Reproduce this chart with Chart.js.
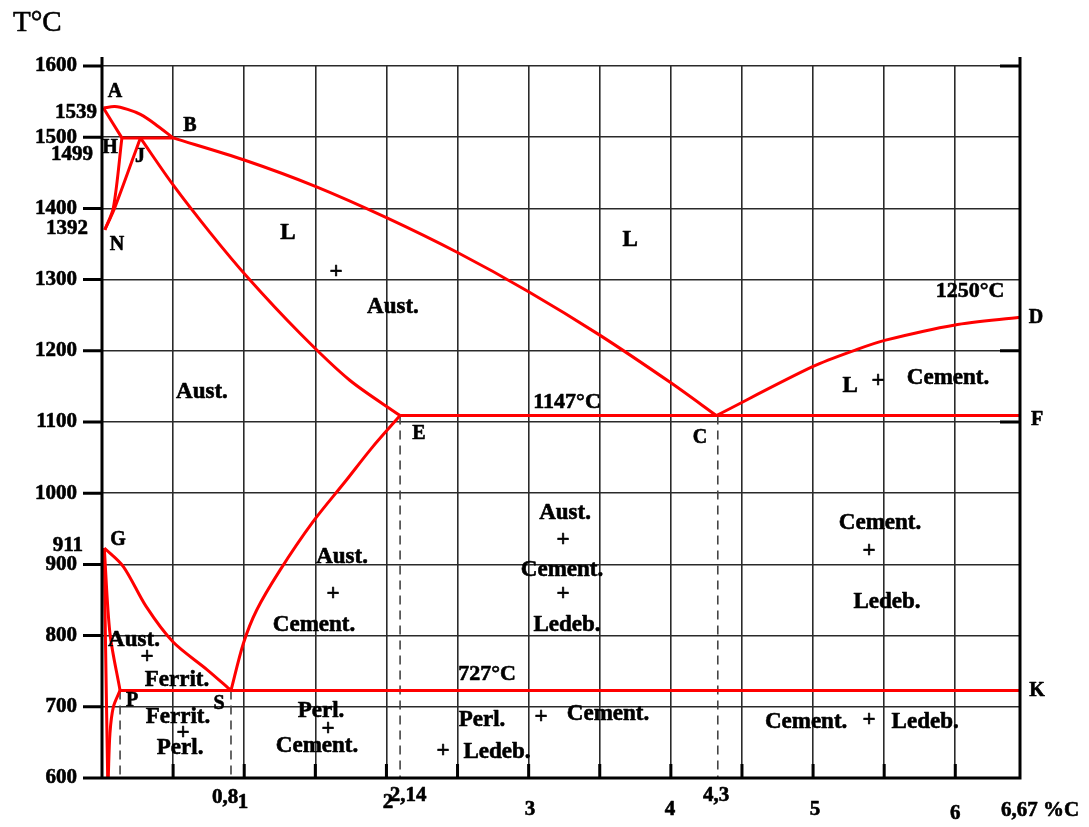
<!DOCTYPE html>
<html><head><meta charset="utf-8">
<script src="https://cdn.jsdelivr.net/npm/chart.js@4"></script>
<style>html,body{margin:0;padding:0;background:#fff}#wrap{width:1089px;height:827px}</style>
</head><body><div id="wrap"><canvas id="c" width="1089" height="827"></canvas></div>
<script>
// ---- data (x = %C position as drawn, y = temperature as drawn) ----
const xGrid = [0,0.5,1,1.5,2,2.5,3,3.5,4,4.5,5,5.5,6,6.455];
const yTicks = [600,700,800,900,1000,1100,1200,1300,1400,1500,1600];
const yExtraLabels = ['1539','1499','1392','911'];
const yExtraPos = [1535,1475,1372,926];

const lineAB = [[0.01,1541],[0.09,1543],[0.18,1539],[0.27,1532],[0.37,1519],[0.5,1499]];
const lineAH = [[0.01,1541],[0.14,1499]];
const lineHB = [[0.14,1499],[0.5,1499]];
const lineHN = [[0.14,1499],[0.08,1401],[0.02,1370]];
const lineJN = [[0.27,1499],[0.09,1401],[0.02,1370]];
const lineJE = [[0.27,1499],[0.5,1433],[0.76,1366],[1.02,1304],[1.39,1225],[1.74,1159],[2.096,1109]];
const lineBC = [[0.5,1499],[1.0,1468],[1.5,1431],[2.0,1387],[2.5,1338],[3.0,1283],[3.5,1222],[4.0,1155],[4.32,1109]];
const lineCD = [[4.32,1109],[5.0,1178],[5.31,1202],[5.51,1215],[5.99,1236],[6.455,1247]];
const lineECF = [[2.096,1109],[6.455,1109]];
const lineGS = [[0.016,923],[0.15,897],[0.31,841],[0.5,791],[0.74,752],[0.907,723]];
const lineSE = [[0.907,723],[0.994,789],[1.088,836],[1.252,892],[1.484,960],[1.709,1016],[1.899,1064],[2.096,1109]];
const linePSK = [[0.127,723],[6.455,723]];
const lineGP = [[0.016,923],[0.056,803],[0.127,723]];
const linePQ = [[0.127,723],[0.08,700],[0.056,663],[0.044,600]];
const lineGQ = [[0.016,923],[0.021,836],[0.04,600]];

const dashP = [[0.127,723],[0.127,600]];
const dashS = [[0.907,723],[0.907,600]];
const dashE = [[2.096,1109],[2.096,600]];
const dashC = [[4.33,1109],[4.33,600]];

const regionLabels = [
  ['L',1.308,1365],['+',1.646,1311],['Aust.',2.046,1261],['L',3.713,1356],
  ['Aust.',0.703,1142],['L',5.26,1151],['+',5.457,1158],['Cement.',5.949,1162],
  ['Aust.',3.256,972],['+',3.242,934],['Cement.',3.235,892],['+',3.242,858],['Ledeb.',3.27,815],
  ['Cement.',5.471,958],['+',5.394,919],['Ledeb.',5.52,847],
  ['Aust.',1.688,910],['+',1.624,858],['Cement.',1.491,815],
  ['Aust.',0.225,794],['+',0.316,770],['Ferrit.',0.527,738],
  ['Ferrit.',0.534,686],['+',0.57,663],['Perl.',0.549,642],
  ['Perl.',1.54,694],['+',1.589,669],['Cement.',1.512,645],
  ['Perl.',2.672,682],['+',3.087,686],['Cement.',3.558,690],
  ['+',2.398,638],['Ledeb.',2.778,637],
  ['Cement.',4.951,679],['+',5.394,682],['Ledeb.',5.788,679]
];
const pointLabels = [
  ['A',0.091,1564],['B',0.619,1516],['H',0.056,1485],['J',0.267,1472],['N',0.105,1349],
  ['D',6.568,1246],['E',2.229,1083],['C',4.205,1078],['F',6.575,1103],
  ['G',0.113,934],['K',6.575,722],['P',0.211,708],['S',0.823,704]
];
const tempLabels = [['1147°C',3.27,1128],['727°C',2.707,746],['1250°C',6.104,1284]];
const xTickLabels = ['0,8','1','2','2,14','3','4','4,3','5','6','6,67 %C'];
const xTickPos = [0.865,0.992,2.011,2.152,3.01,3.994,4.318,5.014,5.999,6.596];
const xTickLevel = [573,565,565,576,555,555,575,555,550,554];

// ---- chart ----
const RED = '#ff0000';
function pts(a){ return a.map(p=>({x:p[0],y:p[1]})); }
const redLines = [lineAB,lineAH,lineHB,lineHN,lineJN,lineJE,lineBC,lineCD,lineECF,lineGS,lineSE,linePSK,lineGP,linePQ,lineGQ];
const dashLines = [dashP,dashS,dashE,dashC];
const datasets = [];
dashLines.forEach(l=>datasets.push({data:pts(l),showLine:true,borderColor:'#444',borderWidth:1.6,borderDash:[9,6],pointRadius:0,clip:false,order:2}));
redLines.forEach(l=>datasets.push({data:pts(l),showLine:true,borderColor:RED,borderWidth:3,pointRadius:0,tension:0.3,clip:false,order:1}));

const SERIF = '"Liberation Serif","Times New Roman",serif';
function txt(ctx,t,px,py){ ctx.strokeText(t,px,py); ctx.fillText(t,px,py); }
const overlay = {
  id:'overlay',
  afterDraw(chart){
    const {ctx, chartArea:a, scales:{x,y}} = chart;
    ctx.save();
    ctx.strokeStyle='#000'; ctx.lineWidth=3; ctx.lineCap='butt';
    ctx.beginPath();
    ctx.moveTo(a.left,a.top-9); ctx.lineTo(a.left,a.bottom+1.5);
    ctx.moveTo(a.right,a.top-9); ctx.lineTo(a.right,a.bottom+1.5);
    ctx.moveTo(a.left-19,a.bottom); ctx.lineTo(a.right,a.bottom);
    yTicks.forEach(v=>{const py=y.getPixelForValue(v); ctx.moveTo(a.left-19,py); ctx.lineTo(a.left,py);});
    [1600,1200,1100].forEach(v=>{const py=y.getPixelForValue(v); ctx.moveTo(a.right-20,py); ctx.lineTo(a.right,py);});
    xGrid.forEach(v=>{const px=x.getPixelForValue(v); ctx.moveTo(px,a.bottom); ctx.lineTo(px,a.bottom-14);});
    ctx.stroke();

    ctx.fillStyle='#000'; ctx.strokeStyle='#000'; ctx.lineWidth=0.6; ctx.lineJoin='round';
    ctx.textBaseline='middle';
    ctx.textAlign='right';
    ctx.font='bold 21px '+SERIF;
    yTicks.forEach(v=>{txt(ctx,String(v), a.left-25, y.getPixelForValue(v));});
    const extraRight=[-5,-9,-14,-19];
    yExtraLabels.forEach((t,i)=>{txt(ctx,t, a.left+extraRight[i], y.getPixelForValue(yExtraPos[i]));});

    ctx.textAlign='center';
    ctx.font='bold 23px '+SERIF;
    regionLabels.forEach(l=>txt(ctx,l[0], x.getPixelForValue(l[1]), y.getPixelForValue(l[2])));
    ctx.font='bold 20px '+SERIF;
    pointLabels.forEach(l=>txt(ctx,l[0], x.getPixelForValue(l[1]), y.getPixelForValue(l[2])));
    ctx.font='bold 22px '+SERIF;
    tempLabels.forEach(l=>txt(ctx,l[0], x.getPixelForValue(l[1]), y.getPixelForValue(l[2])));
    ctx.font='bold 21px '+SERIF;
    xTickLabels.forEach((t,i)=>txt(ctx,t, x.getPixelForValue(xTickPos[i]), y.getPixelForValue(xTickLevel[i])));

    ctx.font='29px '+SERIF;
    ctx.textAlign='left';
    txt(ctx,'T°C', 13, 23);
    ctx.restore();
  }
};

new Chart(document.getElementById('c'), {
  type:'scatter',
  data:{datasets},
  options:{
    responsive:false, animation:false, devicePixelRatio:1,
    layout:{padding:{left:102,top:66,right:69,bottom:49}},
    plugins:{legend:{display:false},tooltip:{enabled:false}},
    scales:{
      x:{type:'linear',min:0,max:6.455,
         afterBuildTicks:s=>{s.ticks=xGrid.map(v=>({value:v}));},
         afterFit:s=>{s.height=0;},
         ticks:{display:false},
         grid:{color:'#2a2a2a',lineWidth:1.6,drawTicks:false},
         border:{display:false}},
      y:{type:'linear',min:600,max:1600,
         afterBuildTicks:s=>{s.ticks=yTicks.map(v=>({value:v}));},
         afterFit:s=>{s.width=0;},
         ticks:{display:false},
         grid:{color:'#2a2a2a',lineWidth:1.6,drawTicks:false},
         border:{display:false}}
    }
  },
  plugins:[overlay]
});
</script></body></html>
